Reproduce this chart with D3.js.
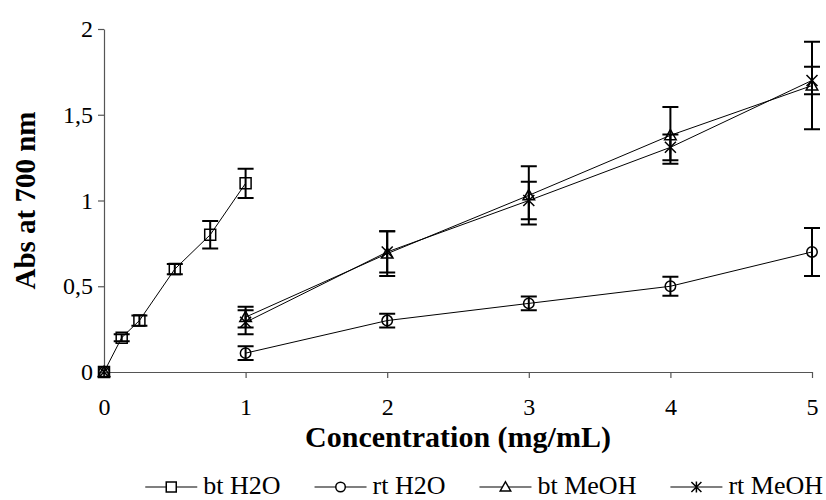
<!DOCTYPE html>
<html>
<head>
<meta charset="utf-8">
<script src="https://cdn.jsdelivr.net/npm/d3@7"></script>
<style>
  html, body { margin: 0; padding: 0; background: #fff; }
  svg { display: block; font-family: "Liberation Serif", "Times New Roman", serif; }
</style>
</head>
<body>
<svg id="chart" width="826" height="500"></svg>
<script>
// Concentration values shared by every series (blank cells break the line)
const concentration = [0, 0.125, 0.25, 0.5, 0.75, 1, 2, 3, 4, 5];

const btH2O      = [0, 0.2, 0.3, 0.6, 0.8, 1.1, null, null, null, null];
const btH2OErr   = [0, 0.02, 0.03, 0.03, 0.08, 0.085, null, null, null, null];
const rtH2O      = [0, null, null, null, null, 0.11, 0.3, 0.4, 0.5, 0.7];
const rtH2OErr   = [0, null, null, null, null, 0.04, 0.04, 0.04, 0.055, 0.14];
const btMeOH     = [0, null, null, null, null, 0.32, 0.69, 1.03, 1.38, 1.67];
const btMeOHErr  = [0, null, null, null, null, 0.06, 0.13, 0.17, 0.165, 0.255];
const rtMeOH     = [0, null, null, null, null, 0.29, 0.70, 1.00, 1.31, 1.70];
const rtMeOHErr  = [0, null, null, null, null, 0.07, 0.12, 0.11, 0.075, 0.08];

const seriesNames = ["bt H2O", "rt H2O", "bt MeOH", "rt MeOH"];
const markerTypes = ["square", "circle", "triangle", "star"];

const xTickValues = [0, 1, 2, 3, 4, 5];
const xTickLabels = ["0", "1", "2", "3", "4", "5"];
const yTickValues = [0, 0.5, 1, 1.5, 2];
const yTickLabels = ["0", "0,5", "1", "1,5", "2"];

const xTitle = "Concentration (mg/mL)";
const yTitle = "Abs at 700 nm";

const series = [
  { name: seriesNames[0], marker: markerTypes[0], values: btH2O,  errors: btH2OErr },
  { name: seriesNames[1], marker: markerTypes[1], values: rtH2O,  errors: rtH2OErr },
  { name: seriesNames[2], marker: markerTypes[2], values: btMeOH, errors: btMeOHErr },
  { name: seriesNames[3], marker: markerTypes[3], values: rtMeOH, errors: rtMeOHErr }
];

const svg = d3.select("#chart");
const plotLeft = 104, plotRight = 812, plotTop = 29, plotBottom = 372;

const x = d3.scaleLinear().domain([0, 5]).range([plotLeft, plotRight]);
const y = d3.scaleLinear().domain([0, 2]).range([plotBottom, plotTop]);

const axisColor = "#555";

// Y axis
const yAxis = svg.append("g")
  .attr("transform", `translate(${plotLeft},0)`)
  .call(d3.axisLeft(y).tickValues(yTickValues)
    .tickFormat((d, i) => yTickLabels[i]).tickSize(6).tickPadding(5).tickSizeOuter(0));
yAxis.select(".domain").attr("stroke", axisColor).attr("stroke-width", 1.2);
yAxis.selectAll(".tick line").attr("stroke", axisColor).attr("stroke-width", 1.2);
yAxis.selectAll("text").attr("font-size", 24).attr("fill", "#000")
  .attr("font-family", "Liberation Serif");

// X axis
const xAxis = svg.append("g")
  .attr("transform", `translate(0,${plotBottom})`)
  .call(d3.axisBottom(x).tickValues(xTickValues)
    .tickFormat((d, i) => xTickLabels[i]).tickSize(6).tickSizeOuter(0));
xAxis.select(".domain").attr("stroke", axisColor).attr("stroke-width", 1.2);
xAxis.selectAll(".tick line").attr("stroke", axisColor).attr("stroke-width", 1.2);
xAxis.selectAll("text").attr("font-size", 24).attr("fill", "#000")
  .attr("font-family", "Liberation Serif").attr("y", 43).attr("dy", null);

// Axis titles
svg.append("text")
  .attr("x", (plotLeft + plotRight) / 2).attr("y", 447)
  .attr("text-anchor", "middle")
  .attr("font-size", 30).attr("font-weight", "bold")
  .text(xTitle);

svg.append("text")
  .attr("transform", `translate(35,${(plotTop + plotBottom) / 2}) rotate(-90)`)
  .attr("text-anchor", "middle")
  .attr("font-size", 29).attr("font-weight", "bold")
  .text(yTitle);

// Marker shapes
function markerPath(type, s) {
  const h = s / 2;
  if (type === "square") return `M${-h},${-h}H${h}V${h}H${-h}Z`;
  if (type === "circle") return d3.arc()({ innerRadius: 0, outerRadius: h * 0.95, startAngle: 0, endAngle: 2 * Math.PI });
  if (type === "triangle") return `M0,${-h * 1.05}L${h * 1.05},${h * 0.8}L${-h * 1.05},${h * 0.8}Z`;
  // asterisk: an X plus a vertical stroke
  return `M${-h},${-h}L${h},${h}M${-h},${h}L${h},${-h}M0,${-h * 1.1}V${h * 1.1}`;
}

const plot = svg.append("g");

const line = d3.line()
  .defined(d => d.v !== null)
  .x(d => x(d.c))
  .y(d => y(d.v));

series.forEach(s => {
  const pts = concentration.map((c, i) => ({ c, v: s.values[i], e: s.errors[i] }));
  plot.append("path")
    .datum(pts)
    .attr("fill", "none")
    .attr("stroke", "#000")
    .attr("stroke-width", 1)
    .attr("d", line);
  s.pts = pts.filter(p => p.v !== null);
});

// Error bars
const cap = 8;
series.forEach(s => {
  const g = plot.append("g").attr("stroke", "#000").attr("stroke-width", 2).attr("fill", "none");
  s.pts.filter(p => p.e > 0).forEach(p => {
    const cx = x(p.c), y1 = y(p.v + p.e), y0 = y(p.v - p.e);
    g.append("path").attr("d",
      `M${cx},${y1}V${y0}M${cx - cap},${y1}H${cx + cap}M${cx - cap},${y0}H${cx + cap}`);
  });
});

// Markers
series.forEach(s => {
  plot.append("g").selectAll("path")
    .data(s.pts)
    .join("path")
    .attr("transform", p => `translate(${x(p.c)},${y(p.v)})`)
    .attr("d", markerPath(s.marker, 11))
    .attr("fill", "none")
    .attr("stroke", "#000")
    .attr("stroke-width", 1.5);
});

// Legend
const legend = svg.append("g").attr("font-size", 26);
const lineLen = 52, textGap = 6, itemGap = 34, legendY = 487;
let cursor = 0;
const items = series.map(s => {
  const g = legend.append("g");
  g.append("line").attr("x1", 0).attr("x2", lineLen).attr("y1", 0).attr("y2", 0)
    .attr("stroke", "#000").attr("stroke-width", 1.2);
  g.append("path").attr("transform", `translate(${lineLen / 2},0)`)
    .attr("d", markerPath(s.marker, 10)).attr("fill", "#fff")
    .attr("stroke", "#000").attr("stroke-width", 1.5);
  const t = g.append("text").attr("x", lineLen + textGap).attr("y", 7).text(s.name);
  const w = lineLen + textGap + t.node().getComputedTextLength();
  const start = cursor;
  cursor += w + itemGap;
  return { g, start };
});
const total = cursor - itemGap;
const shift = 823 - total;
items.forEach(it => it.g.attr("transform", `translate(${it.start + shift},${legendY})`));
</script>
</body>
</html>
